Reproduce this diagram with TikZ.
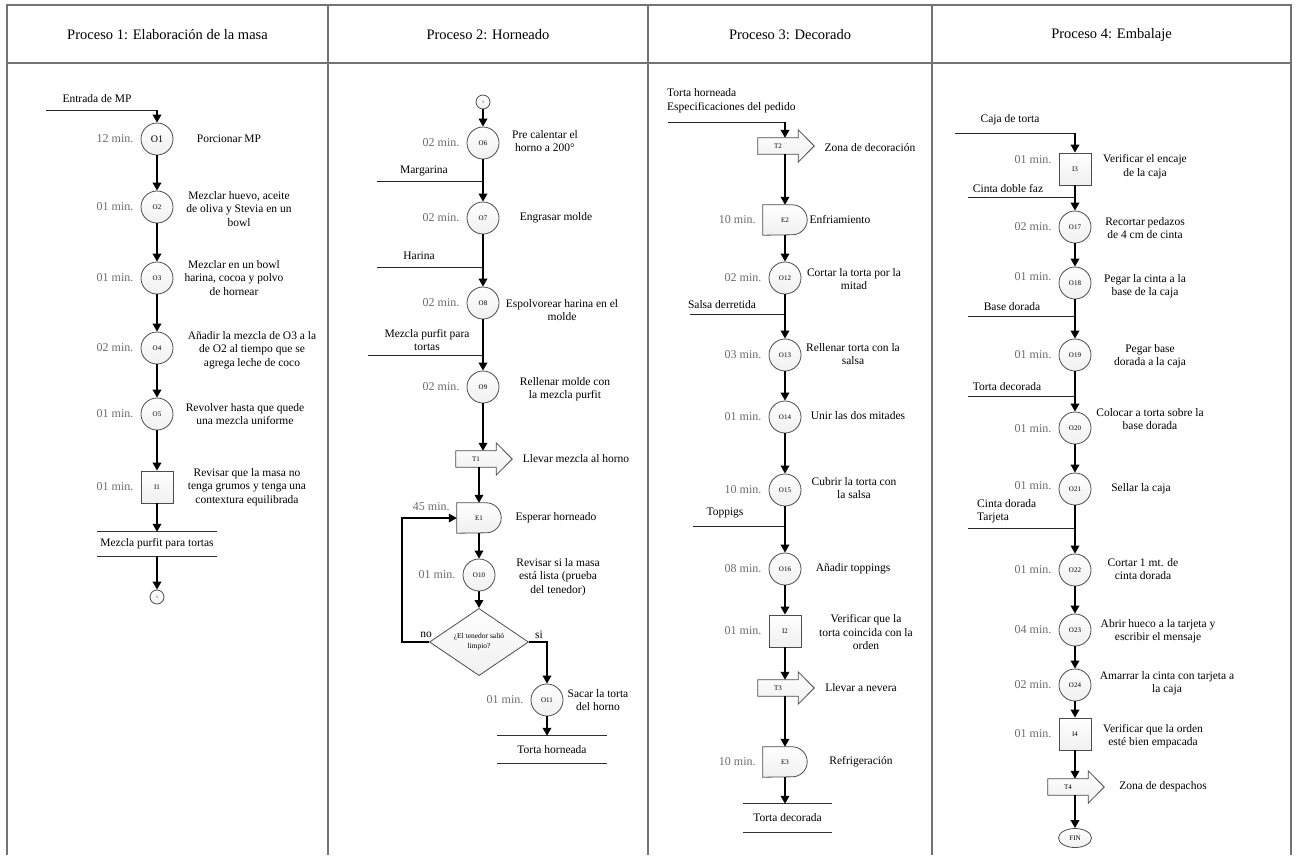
\documentclass[tikz,border=0pt]{standalone}
\usepackage{fontspec}
\setmainfont{Liberation Serif}
\usetikzlibrary{arrows.meta,shapes.geometric,backgrounds}

\tikzset{
  x=1pt, y=-1pt,
  frame/.style={draw=black!55, line width=1.6pt},
  shapeline/.style={draw=black!70, line width=0.8pt, top color=white, bottom color=black!6},
  idfont/.style={font=\fontsize{7}{8}\selectfont},
  opnode/.style={circle, shapeline, minimum size=32pt, inner sep=0pt, idfont},
  inspnode/.style={rectangle, shapeline, minimum size=32pt, inner sep=0pt, idfont},
  delaynode/.style={rectangle, minimum width=44pt, minimum height=30pt, inner sep=0pt, idfont},
  movenode/.style={rectangle, minimum width=40pt, minimum height=16pt, inner sep=0pt, idfont},
  decision/.style={diamond, shapeline, minimum width=99pt, minimum height=59pt, inner sep=0pt,
    align=center, font=\fontsize{7.5}{10}\selectfont},
  linkcircle/.style={circle, shapeline, minimum size=14pt, inner sep=0pt, font=\fontsize{4}{5}\selectfont},
  endnode/.style={ellipse, shapeline, minimum width=33pt, minimum height=19pt, inner sep=0pt, idfont},
  product/.style={rectangle, inner sep=0pt, font=\fontsize{11.5}{13.5}\selectfont},
  desc/.style={align=center, inner sep=0pt, font=\fontsize{11.5}{13.5}\selectfont},
  inlabel/.style={align=left, inner sep=0pt, font=\fontsize{11.5}{13.5}\selectfont},
  mint/.style={inner sep=0pt, text=black!58, font=\fontsize{12}{14}\selectfont},
  title/.style={inner sep=0pt, font=\fontsize{14.5}{17}\selectfont},
  flow/.style={draw=black, line width=1.8pt, -{Triangle[length=8pt,width=8.5pt]}},
  inline/.style={draw=black!85, line width=0.9pt},
  prodline/.style={draw=black!80, line width=0.9pt},
}

% activity: name, shape style, x, y, id, time, description, description position, time y
\newcommand{\activity}[9]{%
  \node[#2] (#1) at (#3,#4) {#5};
  \path (#1.west) ++(-7pt,0pt) coordinate (#1-tc);
  \node[mint, anchor=east] (#1-t) at (#1-tc |- 0,#9) {#6};
  \node[desc] (#1-d) at (#8) {#7};
}

% outline of a delay (D-shaped) symbol behind its node
\newcommand{\delayoutline}[1]{%
  \begin{pgfonlayer}{background}
    \path[shapeline] (#1.north west) -- ([xshift=-15pt]#1.north east)
      arc[start angle=90, end angle=-90, radius=15pt] -- (#1.south west) -- cycle;
  \end{pgfonlayer}}

% outline of a transport (block arrow) symbol behind its node
\newcommand{\moveoutline}[1]{%
  \begin{pgfonlayer}{background}
    \path[shapeline] (#1.north west) -- (#1.north east) -- ([yshift=8pt]#1.north east)
      -- ([xshift=16pt]#1.east) -- ([yshift=-8pt]#1.south east) -- (#1.south east)
      -- (#1.south west) -- cycle;
  \end{pgfonlayer}}

% top and bottom rules of a product node
\newcommand{\productrules}[1]{%
  \draw[prodline] (#1.north west) -- (#1.north east) (#1.south west) -- (#1.south east);}

\begin{document}
\begin{tikzpicture}
\useasboundingbox (0,0) rectangle (1297,855);

% ---------- frame and lane headers ----------
\draw[frame] (7,855) -- (7,5) -- (1291,5) -- (1291,855);
\draw[frame] (7,63) -- (1291,63);
\draw[frame] (328,5) -- (328,855);
\draw[frame] (648,5) -- (648,855);
\draw[frame] (932,5) -- (932,855);
\node[title] (t1) at (167.5,35) {Proceso 1: Elaboración de la masa};
\node[title] (t2) at (488,35) {Proceso 2: Horneado};
\node[title] (t3) at (790,35) {Proceso 3: Decorado};
\node[title] (t4) at (1111.5,35) {Proceso 4: Embalaje};

% ---------- Proceso 1 ----------
\node[inlabel] (in-mp) at (97,99) {Entrada de MP};
\coordinate (in-mp-s) at (46,110);

\activity{O1}{opnode,font=\fontsize{10}{12}\selectfont}{157}{139}{O1}{12 min.}{Porcionar MP}{229,139}{139}
\activity{O2}{opnode}{157}{207}{O2}{01 min.}{Mezclar huevo, aceite\\de oliva y Stevia en un\\bowl}{239,209}{207}
\activity{O3}{opnode}{157}{278}{O3}{01 min.}{Mezclar en un bowl\\harina, cocoa y polvo\\de hornear}{234,278}{278}
\activity{O4}{opnode}{157}{348}{O4}{02 min.}{Añadir la mezcla de O3 a la\\de O2 al tiempo que se\\agrega leche de coco}{252,350}{348}
\activity{O5}{opnode}{157}{414}{O5}{01 min.}{Revolver hasta que quede\\una mezcla uniforme}{245,414}{414}
\activity{I1}{inspnode}{157}{487}{I1}{01 min.}{Revisar que la masa no\\tenga grumos y tenga una\\contextura equilibrada}{247,487}{487}
\node[product, minimum width=120pt, minimum height=24pt] (P1) at (157,544) {Mezcla purfit para tortas};
\productrules{P1}
\node[linkcircle] (C1) at (157,597) {1};

\draw[inline] (in-mp-s) -- (in-mp-s -| O1);
\draw[flow] (in-mp-s -| O1) -- (O1);
\draw[flow] (O1) -- (O2);
\draw[flow] (O2) -- (O3);
\draw[flow] (O3) -- (O4);
\draw[flow] (O4) -- (O5);
\draw[flow] (O5) -- (I1);
\draw[flow] (I1) -- (P1.north);
\draw[flow] (P1.south) -- (C1);

% ---------- Proceso 2 ----------
\node[linkcircle] (C2) at (483,102) {1};
\activity{O6}{opnode}{483}{143}{O6}{02 min.}{Pre calentar el\\horno a 200°}{545,141}{143}
\node[inlabel] (in-marg) at (424,171) {Margarina};
\coordinate (in-marg-s) at (377,181);
\activity{O7}{opnode}{483}{218}{O7}{02 min.}{Engrasar molde}{556,218}{218}
\node[inlabel] (in-har) at (419,256) {Harina};
\coordinate (in-har-s) at (377,267);
\activity{O8}{opnode}{483}{303}{O8}{02 min.}{Espolvorear harina en el\\molde}{562,310}{303}
\node[inlabel, align=center] (in-mez) at (427,340) {Mezcla purfit para\\tortas};
\coordinate (in-mez-s) at (368,355);
\activity{O9}{opnode}{483}{387}{O9}{02 min.}{Rellenar molde con\\la mezcla purfit}{565,389}{387}
\node[movenode] (T1) at (476,459) {T1};
\moveoutline{T1}
\node[desc] (T1-d) at (576,459) {Llevar mezcla al horno};
\activity{E1}{delaynode}{479}{518}{E1}{45 min.}{Esperar horneado}{556,518}{507}
\delayoutline{E1}
\activity{O10}{opnode}{479}{575}{O10}{01 min.}{Revisar si la masa\\está lista (prueba\\del tenedor)}{558,577}{575}
\node[decision] (D1) at (479,642) {¿El tenedor salió\\limpio?};
\node[inlabel] (D1-no) at (426,635) {no};
\node[inlabel] (D1-si) at (539,635) {si};
\activity{O11}{opnode}{547}{700}{O11}{01 min.}{Sacar la torta\\del horno}{598,700}{700}
\node[product, minimum width=110pt, minimum height=27pt] (P2) at (552,749.5) {Torta horneada};
\productrules{P2}

\draw[flow] (C2) -- (O6);
\draw[inline] (in-marg-s) -- (in-marg-s -| O6);
\draw[flow] (O6) -- (O7);
\draw[inline] (in-har-s) -- (in-har-s -| O7);
\draw[flow] (O7) -- (O8);
\draw[inline] (in-mez-s) -- (in-mez-s -| O8);
\draw[flow] (O8) -- (O9);
\draw[flow] (O9) -- (O9 |- T1.north);
\draw[flow] (E1 |- T1.south) -- (E1);
\draw[flow] (E1) -- (O10);
\draw[flow] (O10) -- (D1);
\draw[flow] (D1.west) -- ++(-27pt,0pt) |- (E1.west);
\draw[flow] (D1.east) -| (O11);
\draw[flow] (O11) -- (O11 |- P2.north);

% ---------- Proceso 3 ----------
\coordinate (lane3) at (785,0);
\node[inlabel, anchor=west] (in-ped) at (667,100.5) {Torta horneada\\Especificaciones del pedido};
\coordinate (in-ped-s) at (668,122);
\node[movenode] (T2) at (778,146) {T2};
\moveoutline{T2}
\node[desc] (T2-d) at (870,148) {Zona de decoración};
\activity{E2}{delaynode}{785}{220}{E2}{10 min.}{Enfriamiento}{840,220}{220}
\delayoutline{E2}
\activity{O12}{opnode}{785}{278}{O12}{02 min.}{Cortar la torta por la\\mitad}{854,279}{278}
\node[inlabel] (in-sal) at (722,305) {Salsa derretida};
\coordinate (in-sal-s) at (690,314);
\activity{O13}{opnode}{785}{355}{O13}{03 min.}{Rellenar torta con la\\salsa}{853,354}{355}
\activity{O14}{opnode}{785}{417}{O14}{01 min.}{Unir las dos mitades}{858,416}{417}
\activity{O15}{opnode}{785}{490}{O15}{10 min.}{Cubrir la torta con\\la salsa}{854,488}{490}
\node[inlabel] (in-top) at (725,513) {Toppigs};
\coordinate (in-top-s) at (693,526);
\activity{O16}{opnode}{785}{569}{O16}{08 min.}{Añadir toppings}{853,569}{569}
\activity{I2}{inspnode}{785}{631}{I2}{01 min.}{Verificar que la\\torta coincida con la\\orden}{866,632}{631}
\node[movenode] (T3) at (778,688) {T3};
\moveoutline{T3}
\node[desc] (T3-d) at (861,688) {Llevar a nevera};
\activity{E3}{delaynode}{785}{762}{E3}{10 min.}{Refrigeración}{861,762}{762}
\delayoutline{E3}
\node[product, minimum width=89pt, minimum height=28pt] (P3) at (787.5,818) {Torta decorada};
\productrules{P3}

\draw[inline] (in-ped-s) -- (in-ped-s -| lane3);
\draw[flow] (in-ped-s -| lane3) -- (lane3 |- T2.north);
\draw[flow] (E2 |- T2.south) -- (E2);
\draw[flow] (E2) -- (O12);
\draw[inline] (in-sal-s) -- (in-sal-s -| O12);
\draw[flow] (O12) -- (O13);
\draw[flow] (O13) -- (O14);
\draw[flow] (O14) -- (O15);
\draw[inline] (in-top-s) -- (in-top-s -| O15);
\draw[flow] (O15) -- (O16);
\draw[flow] (O16) -- (I2);
\draw[flow] (I2) -- (I2 |- T3.north);
\draw[flow] (E3 |- T3.south) -- (E3);
\draw[flow] (E3) -- (E3 |- P3.north);

% ---------- Proceso 4 ----------
\node[inlabel] (in-caja) at (1010,120) {Caja de torta};
\coordinate (in-caja-s) at (955,133);
\activity{I3}{inspnode}{1075}{169}{I3}{01 min.}{Verificar el encaje\\de la caja}{1145,166.5}{160}
\node[inlabel] (in-cin) at (1008,189) {Cinta doble faz};
\coordinate (in-cin-s) at (968,197);
\activity{O17}{opnode}{1075}{227}{O17}{02 min.}{Recortar pedazos\\de 4 cm de cinta}{1145,228}{227}
\activity{O18}{opnode}{1075}{283}{O18}{01 min.}{Pegar la cinta a la\\base de la caja}{1145,286}{277}
\node[inlabel] (in-base) at (1012,307) {Base dorada};
\coordinate (in-base-s) at (968,316);
\activity{O19}{opnode}{1075}{355}{O19}{01 min.}{Pegar base\\dorada a la caja}{1150,356}{355}
\node[inlabel] (in-tdec) at (1007,387) {Torta decorada};
\coordinate (in-tdec-s) at (968,396);
\activity{O20}{opnode}{1075}{428}{O20}{01 min.}{Colocar a torta sobre la\\base dorada}{1150,419}{429}
\activity{O21}{opnode}{1075}{489}{O21}{01 min.}{Sellar la caja}{1141,489}{486}
\node[inlabel, anchor=west] (in-dor) at (977,511) {Cinta dorada\\Tarjeta};
\coordinate (in-dor-s) at (968,528);
\activity{O22}{opnode}{1075}{570}{O22}{01 min.}{Cortar 1 mt. de\\cinta dorada}{1143,569}{570}
\activity{O23}{opnode}{1075}{630}{O23}{04 min.}{Abrir hueco a la tarjeta y\\escribir el mensaje}{1158,631}{630}
\activity{O24}{opnode}{1075}{685}{O24}{02 min.}{Amarrar la cinta con tarjeta a\\la caja}{1167,683}{685}
\activity{I4}{inspnode}{1075}{734}{I4}{01 min.}{Verificar que la orden\\esté bien empacada}{1153,736}{734}
\node[movenode] (T4) at (1068,787) {T4};
\moveoutline{T4}
\node[desc] (T4-d) at (1163,787) {Zona de despachos};
\node[endnode] (FIN) at (1075,838) {FIN};

\draw[inline] (in-caja-s) -- (in-caja-s -| I3);
\draw[flow] (in-caja-s -| I3) -- (I3);
\draw[inline] (in-cin-s) -- (in-cin-s -| I3);
\draw[flow] (I3) -- (O17);
\draw[flow] (O17) -- (O18);
\draw[inline] (in-base-s) -- (in-base-s -| O18);
\draw[flow] (O18) -- (O19);
\draw[inline] (in-tdec-s) -- (in-tdec-s -| O19);
\draw[flow] (O19) -- (O20);
\draw[flow] (O20) -- (O21);
\draw[inline] (in-dor-s) -- (in-dor-s -| O21);
\draw[flow] (O21) -- (O22);
\draw[flow] (O22) -- (O23);
\draw[flow] (O23) -- (O24);
\draw[flow] (O24) -- (I4);
\draw[flow] (I4) -- (I4 |- T4.north);
\draw[flow] (FIN |- T4.south) -- (FIN);
\end{tikzpicture}
\end{document}
